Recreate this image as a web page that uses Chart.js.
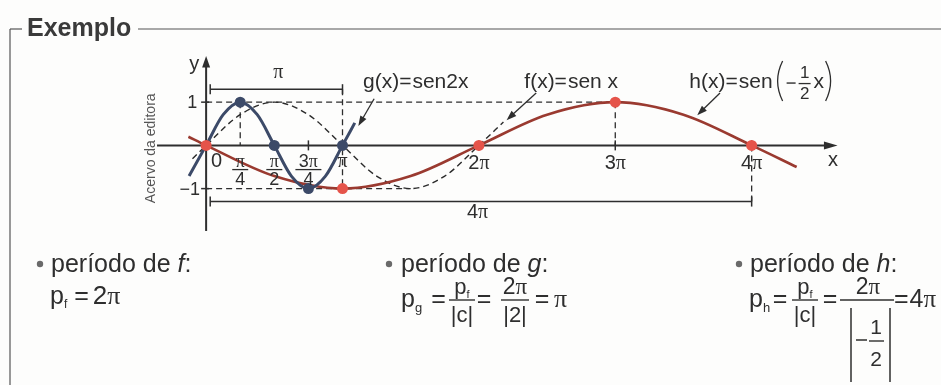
<!DOCTYPE html>
<html lang="pt">
<head>
<meta charset="utf-8">
<title>Exemplo - período</title>
<script src="https://cdn.jsdelivr.net/npm/chart.js@4.4.1/dist/chart.umd.min.js"></script>
<style>
  html, body { margin: 0; padding: 0; background: #fdfdfc; }
  #wrap { position: relative; width: 941px; height: 385px; }
</style>
</head>
<body>
<div id="wrap"><canvas id="grafico" width="941" height="385"></canvas></div>
<script>
// x values are in multiples of pi
// f(x) = sen x (dashed)
const fX = [-0.1, 0, 0.25, 0.5, 0.75, 1, 1.25, 1.5, 1.75, 2, 2.18];
const fY = [-0.31, 0, 0.71, 1, 0.71, 0, -0.71, -1, -0.71, 0, 0.54];
// g(x) = sen 2x
const gX = [-0.125, 0, 0.125, 0.25, 0.375, 0.5, 0.625, 0.75, 0.875, 1, 1.09];
const gY = [-0.71, 0, 0.71, 1, 0.71, 0, -0.71, -1, -0.71, 0, 0.52];
// h(x) = sen(-x/2)
const hX = [-0.13, 0, 0.5, 1, 1.5, 2, 2.5, 3, 3.5, 4, 4.33];
const hY = [0.2, 0, -0.71, -1, -0.71, 0, 0.71, 1, 0.71, 0, -0.5];
// marked points
const gDotX = [0.25, 0.5, 0.75, 1];
const gDotY = [1, 0, -1, 0];
const hDotX = [0, 1, 2, 3, 4];
const hDotY = [0, -1, 0, 1, 0];
// x axis tick labels
const tickPos = [2, 3, 4];
const tickLabels = ['2π', '3π', '4π'];
const fracTickPos = [0.25, 0.5, 0.75];
const fracTickNum = ['π', 'π', '3π'];
const fracTickDen = ['4', '2', '4'];

const FONT = '"Liberation Sans", Arial, Helvetica, sans-serif';
const SERIF = '"Liberation Serif", "Times New Roman", serif';
const INK = '#2e2e2e';
const NAVY = '#3c4a68';
const RED = '#e5544a';

const toPts = (xs, ys) => xs.map((x, i) => ({ x: x, y: ys[i] }));

// split text runs so that pi is drawn with a serif face
function pieces(parts) {
  const out = [];
  parts.forEach(p => {
    const t = p[0], size = p[1], o = p[2] || {};
    t.split(/(π)/).forEach(s => {
      if (!s) return;
      out.push({
        s: s,
        font: (o.italic ? 'italic ' : '') + (o.bold ? 'bold ' : '') + size + 'px ' + (s === 'π' ? SERIF : FONT),
        dy: o.dy || 0,
        gap: o.gap || 0
      });
    });
  });
  return out;
}

function runs(ctx, x, y, parts, align) {
  const list = pieces(parts);
  let w = 0;
  list.forEach(p => { ctx.font = p.font; p.w = ctx.measureText(p.s).width + p.gap; w += p.w; });
  let cx = align === 'center' ? x - w / 2 : align === 'right' ? x - w : x;
  ctx.textAlign = 'left';
  ctx.textBaseline = 'alphabetic';
  list.forEach(p => { ctx.font = p.font; ctx.fillText(p.s, cx, y + p.dy); cx += p.w; });
  return w;
}

function seg(ctx, x1, y1, x2, y2, width, dash) {
  ctx.save();
  ctx.lineWidth = width || 1.5;
  ctx.setLineDash(dash || []);
  ctx.beginPath();
  ctx.moveTo(x1, y1);
  ctx.lineTo(x2, y2);
  ctx.stroke();
  ctx.restore();
}

function arrow(ctx, x1, y1, x2, y2) {
  const a = Math.atan2(y2 - y1, x2 - x1);
  seg(ctx, x1, y1, x2 - 6 * Math.cos(a), y2 - 6 * Math.sin(a), 1.3);
  ctx.beginPath();
  ctx.moveTo(x2, y2);
  ctx.lineTo(x2 - 10 * Math.cos(a) + 3.5 * Math.sin(a), y2 - 10 * Math.sin(a) - 3.5 * Math.cos(a));
  ctx.lineTo(x2 - 10 * Math.cos(a) - 3.5 * Math.sin(a), y2 - 10 * Math.sin(a) + 3.5 * Math.cos(a));
  ctx.closePath();
  ctx.fill();
}

function frac(ctx, cx, barY, num, den, barW) {
  runs(ctx, cx, barY - 6, num, 'center');
  runs(ctx, cx, barY + 22, den, 'center');
  seg(ctx, cx - barW / 2, barY, cx + barW / 2, barY, 1.4);
}

const backdrop = {
  id: 'backdrop',
  beforeDatasetsDraw(chart) {
    const ctx = chart.ctx;
    const X = v => chart.scales.x.getPixelForValue(v);
    const Y = v => chart.scales.y.getPixelForValue(v);
    ctx.save();

    // box frame with title
    ctx.strokeStyle = '#555';
    seg(ctx, 10, 29, 22, 29, 1.2);
    seg(ctx, 10, 29, 10, 385, 1.2);
    seg(ctx, 138, 29, 941, 29, 1.2);
    ctx.fillStyle = '#3a3a3a';
    runs(ctx, 27, 36, [['Exemplo', 25, { bold: true }]]);
    ctx.strokeStyle = INK;
    ctx.fillStyle = INK;

    // dashed guides
    const d = [6, 4];
    seg(ctx, X(0), Y(1), X(3), Y(1), 1.3, d);
    seg(ctx, X(0), Y(-1), X(1.5), Y(-1), 1.3, d);
    seg(ctx, X(0.25), Y(1), X(0.25), Y(0), 1.3, d);
    seg(ctx, X(1), Y(1.3), X(1), Y(-1), 1.3, d);
    seg(ctx, X(3), Y(1), X(3), Y(0), 1.3, d);
    seg(ctx, X(4), Y(0), X(4), Y(-1.3), 1.3, d);

    // period brackets
    seg(ctx, X(0.03), Y(1.3), X(1), Y(1.3), 1.5);
    seg(ctx, X(0.03), Y(1.3) - 5, X(0.03), Y(1.3) + 5, 1.5);
    seg(ctx, X(1), Y(1.3) - 5, X(1), Y(1.3) + 5, 1.5);
    seg(ctx, X(0.03), Y(-1.3), X(4), Y(-1.3), 1.5);
    seg(ctx, X(0.03), Y(-1.3) - 5, X(0.03), Y(-1.3) + 5, 1.5);
    seg(ctx, X(4), Y(-1.3) - 5, X(4), Y(-1.3) + 5, 1.5);

    // axes with arrow heads
    const x0 = X(0), y0 = Y(0);
    seg(ctx, X(-0.36), y0, X(4.57), y0, 2);
    ctx.beginPath();
    ctx.moveTo(X(4.63), y0);
    ctx.lineTo(X(4.53), y0 - 4);
    ctx.lineTo(X(4.53), y0 + 4);
    ctx.closePath();
    ctx.fill();
    seg(ctx, x0, Y(-1.98), x0, Y(1.9), 2);
    ctx.beginPath();
    ctx.moveTo(x0, Y(2.07));
    ctx.lineTo(x0 - 4, Y(1.8));
    ctx.lineTo(x0 + 4, Y(1.8));
    ctx.closePath();
    ctx.fill();

    // ticks
    [0.75, 1, 2, 3, 4].forEach(v => seg(ctx, X(v), y0 - 5, X(v), y0 + 5, 1.5));
    [1, -1].forEach(v => seg(ctx, x0 - 5, Y(v), x0 + 3, Y(v), 1.5));
    ctx.restore();
  },
  afterDatasetsDraw(chart) {
    const ctx = chart.ctx;
    const X = v => chart.scales.x.getPixelForValue(v);
    const Y = v => chart.scales.y.getPixelForValue(v);
    ctx.save();
    ctx.strokeStyle = INK;
    ctx.fillStyle = INK;

    // axis names and values
    runs(ctx, X(-0.123), Y(1.753), [['y', 20]]);
    runs(ctx, X(4.56), Y(-0.47), [['x', 20]]);
    runs(ctx, X(-0.065), Y(0.854), [['1', 18]], 'right');
    runs(ctx, X(-0.045), Y(-1.146), [['−1', 18]], 'right');
    runs(ctx, X(0.035), Y(-0.49), [['0', 20]]);
    fracTickPos.forEach((v, i) => {
      runs(ctx, X(v), Y(-0.5), [[fracTickNum[i], 18]], 'center');
      seg(ctx, X(v) - (i === 2 ? 13 : 8), Y(-0.56), X(v) + (i === 2 ? 13 : 8), Y(-0.56), 1.3);
      runs(ctx, X(v), Y(-0.92), [[fracTickDen[i], 18]], 'center');
    });
    runs(ctx, X(1), Y(-0.5), [['π', 20]], 'center');
    tickPos.forEach((v, i) => runs(ctx, X(v), Y(-0.54), [[tickLabels[i], 20]], 'center'));

    // bracket labels
    runs(ctx, X(0.53), Y(1.55), [['π', 20]], 'center');
    runs(ctx, X(1.99), Y(-1.67), [['4π', 20]], 'center');

    // credit line
    ctx.save();
    ctx.translate(X(-0.413), Y(-0.067));
    ctx.rotate(-Math.PI / 2);
    ctx.fillStyle = '#555';
    runs(ctx, 0, 5, [['Acervo da editora', 14]], 'center');
    ctx.restore();

    // function names and pointers
    runs(ctx, X(1.15), Y(1.326), [['g(x)', 21], ['=', 21, { gap: 1 }], ['sen2x', 21]]);
    arrow(ctx, X(1.232), Y(1.079), X(1.116), Y(0.449));
    runs(ctx, X(2.333), Y(1.326), [['f(x)', 21], ['=', 21, { gap: 1 }], ['sen x', 21]]);
    arrow(ctx, X(2.42), Y(1.213), X(2.203), Y(0.584));
    const hw = runs(ctx, X(3.543), Y(1.326), [['h(x)', 21], ['=', 21, { gap: 1 }], ['sen', 21]]);
    let px = X(3.543) + hw + 4;
    const py = Y(1.326);
    ctx.lineWidth = 1.3;
    ctx.beginPath();
    ctx.moveTo(px + 6, py - 27);
    ctx.quadraticCurveTo(px - 4, py - 7, px + 6, py + 13);
    ctx.stroke();
    seg(ctx, px + 10, py - 5, px + 19, py - 5, 1.4);
    runs(ctx, px + 28, py - 10, [['1', 17]], 'center');
    seg(ctx, px + 22, py - 4.5, px + 34, py - 4.5, 1.3);
    runs(ctx, px + 28, py + 11, [['2', 17]], 'center');
    runs(ctx, px + 37, py, [['x', 21]]);
    px += 55;
    ctx.beginPath();
    ctx.moveTo(px - 6, py - 27);
    ctx.quadraticCurveTo(px + 4, py - 7, px - 6, py + 13);
    ctx.stroke();
    arrow(ctx, X(3.768), Y(1.213), X(3.601), Y(0.697));

    // period of each function
    ctx.fillStyle = '#6a6a6a';
    [40, 389, 739].forEach(bx => {
      ctx.beginPath();
      ctx.arc(bx, 264, 3.2, 0, Math.PI * 2);
      ctx.fill();
    });
    ctx.fillStyle = INK;
    runs(ctx, 51, 272, [['período de ', 25], ['f', 25, { italic: true }], [':', 25]]);
    runs(ctx, 401, 272, [['período de ', 25], ['g', 25, { italic: true }], [':', 25]]);
    runs(ctx, 750, 272, [['período de ', 25], ['h', 25, { italic: true }], [':', 25]]);

    runs(ctx, 50, 304, [['p', 25], ['f', 12, { dy: 4, gap: 7 }], ['=', 25, { gap: 4 }], ['2π', 26]]);

    // p_g = p_f/|c| = 2π/|2| = π
    runs(ctx, 401, 307, [['p', 25], ['g', 13, { dy: 5 }]]);
    runs(ctx, 438.5, 307, [['=', 25]], 'center');
    frac(ctx, 462, 300, [['p', 22], ['f', 11, { dy: 4 }]], [['|c|', 22]], 26);
    runs(ctx, 484, 307, [['=', 25]], 'center');
    frac(ctx, 515, 300, [['2π', 23]], [['|2|', 22]], 28);
    runs(ctx, 542, 307, [['=', 25]], 'center');
    runs(ctx, 554, 307, [['π', 26]]);

    // p_h = p_f/|c| = 2π/|−1/2| = 4π
    runs(ctx, 749, 307, [['p', 25], ['h', 13, { dy: 5 }]]);
    runs(ctx, 780, 307, [['=', 25]], 'center');
    frac(ctx, 805, 300, [['p', 22], ['f', 11, { dy: 4 }]], [['|c|', 22]], 26);
    runs(ctx, 830, 307, [['=', 25]], 'center');
    runs(ctx, 868, 294, [['2π', 23]], 'center');
    seg(ctx, 840, 300, 894, 300, 1.4);
    seg(ctx, 851, 308, 851, 382, 1.5);
    seg(ctx, 890, 308, 890, 382, 1.5);
    seg(ctx, 856, 340, 867, 340, 1.5);
    runs(ctx, 876, 334, [['1', 21]], 'center');
    seg(ctx, 869, 341, 884, 341, 1.4);
    runs(ctx, 876, 366, [['2', 21]], 'center');
    runs(ctx, 894, 307, [['=', 25, { gap: 1 }], ['4π', 25]]);
    ctx.restore();
  }
};

const chart = new Chart(document.getElementById('grafico'), {
  type: 'line',
  data: {
    datasets: [
      {
        label: 'f(x)=sen x',
        data: toPts(fX, fY),
        borderColor: '#2a2a2a',
        borderWidth: 1.4,
        borderDash: [6, 4],
        pointRadius: 0,
        cubicInterpolationMode: 'monotone',
        order: 4
      },
      {
        label: 'h(x)=sen(-x/2)',
        data: toPts(hX, hY),
        borderColor: '#9a3a30',
        borderWidth: 2.6,
        pointRadius: 0,
        cubicInterpolationMode: 'monotone',
        order: 3
      },
      {
        label: 'g(x)=sen2x',
        data: toPts(gX, gY),
        borderColor: NAVY,
        borderWidth: 3,
        pointRadius: 0,
        cubicInterpolationMode: 'monotone',
        order: 2
      },
      {
        label: 'pontos g',
        data: toPts(gDotX, gDotY),
        showLine: false,
        pointRadius: 5.5,
        pointBackgroundColor: NAVY,
        pointBorderWidth: 0,
        order: 1
      },
      {
        label: 'pontos h',
        data: toPts(hDotX, hDotY),
        showLine: false,
        pointRadius: 5.5,
        pointBackgroundColor: RED,
        pointBorderWidth: 0,
        order: 0
      }
    ]
  },
  options: {
    responsive: false,
    animation: false,
    devicePixelRatio: 1,
    layout: { padding: 0 },
    scales: {
      x: { type: 'linear', min: -1.471, max: 5.348, display: false },
      y: { type: 'linear', min: -5.416, max: 3.236, display: false }
    },
    plugins: {
      legend: { display: false },
      tooltip: { enabled: false }
    }
  },
  plugins: [backdrop]
});
</script>
</body>
</html>
